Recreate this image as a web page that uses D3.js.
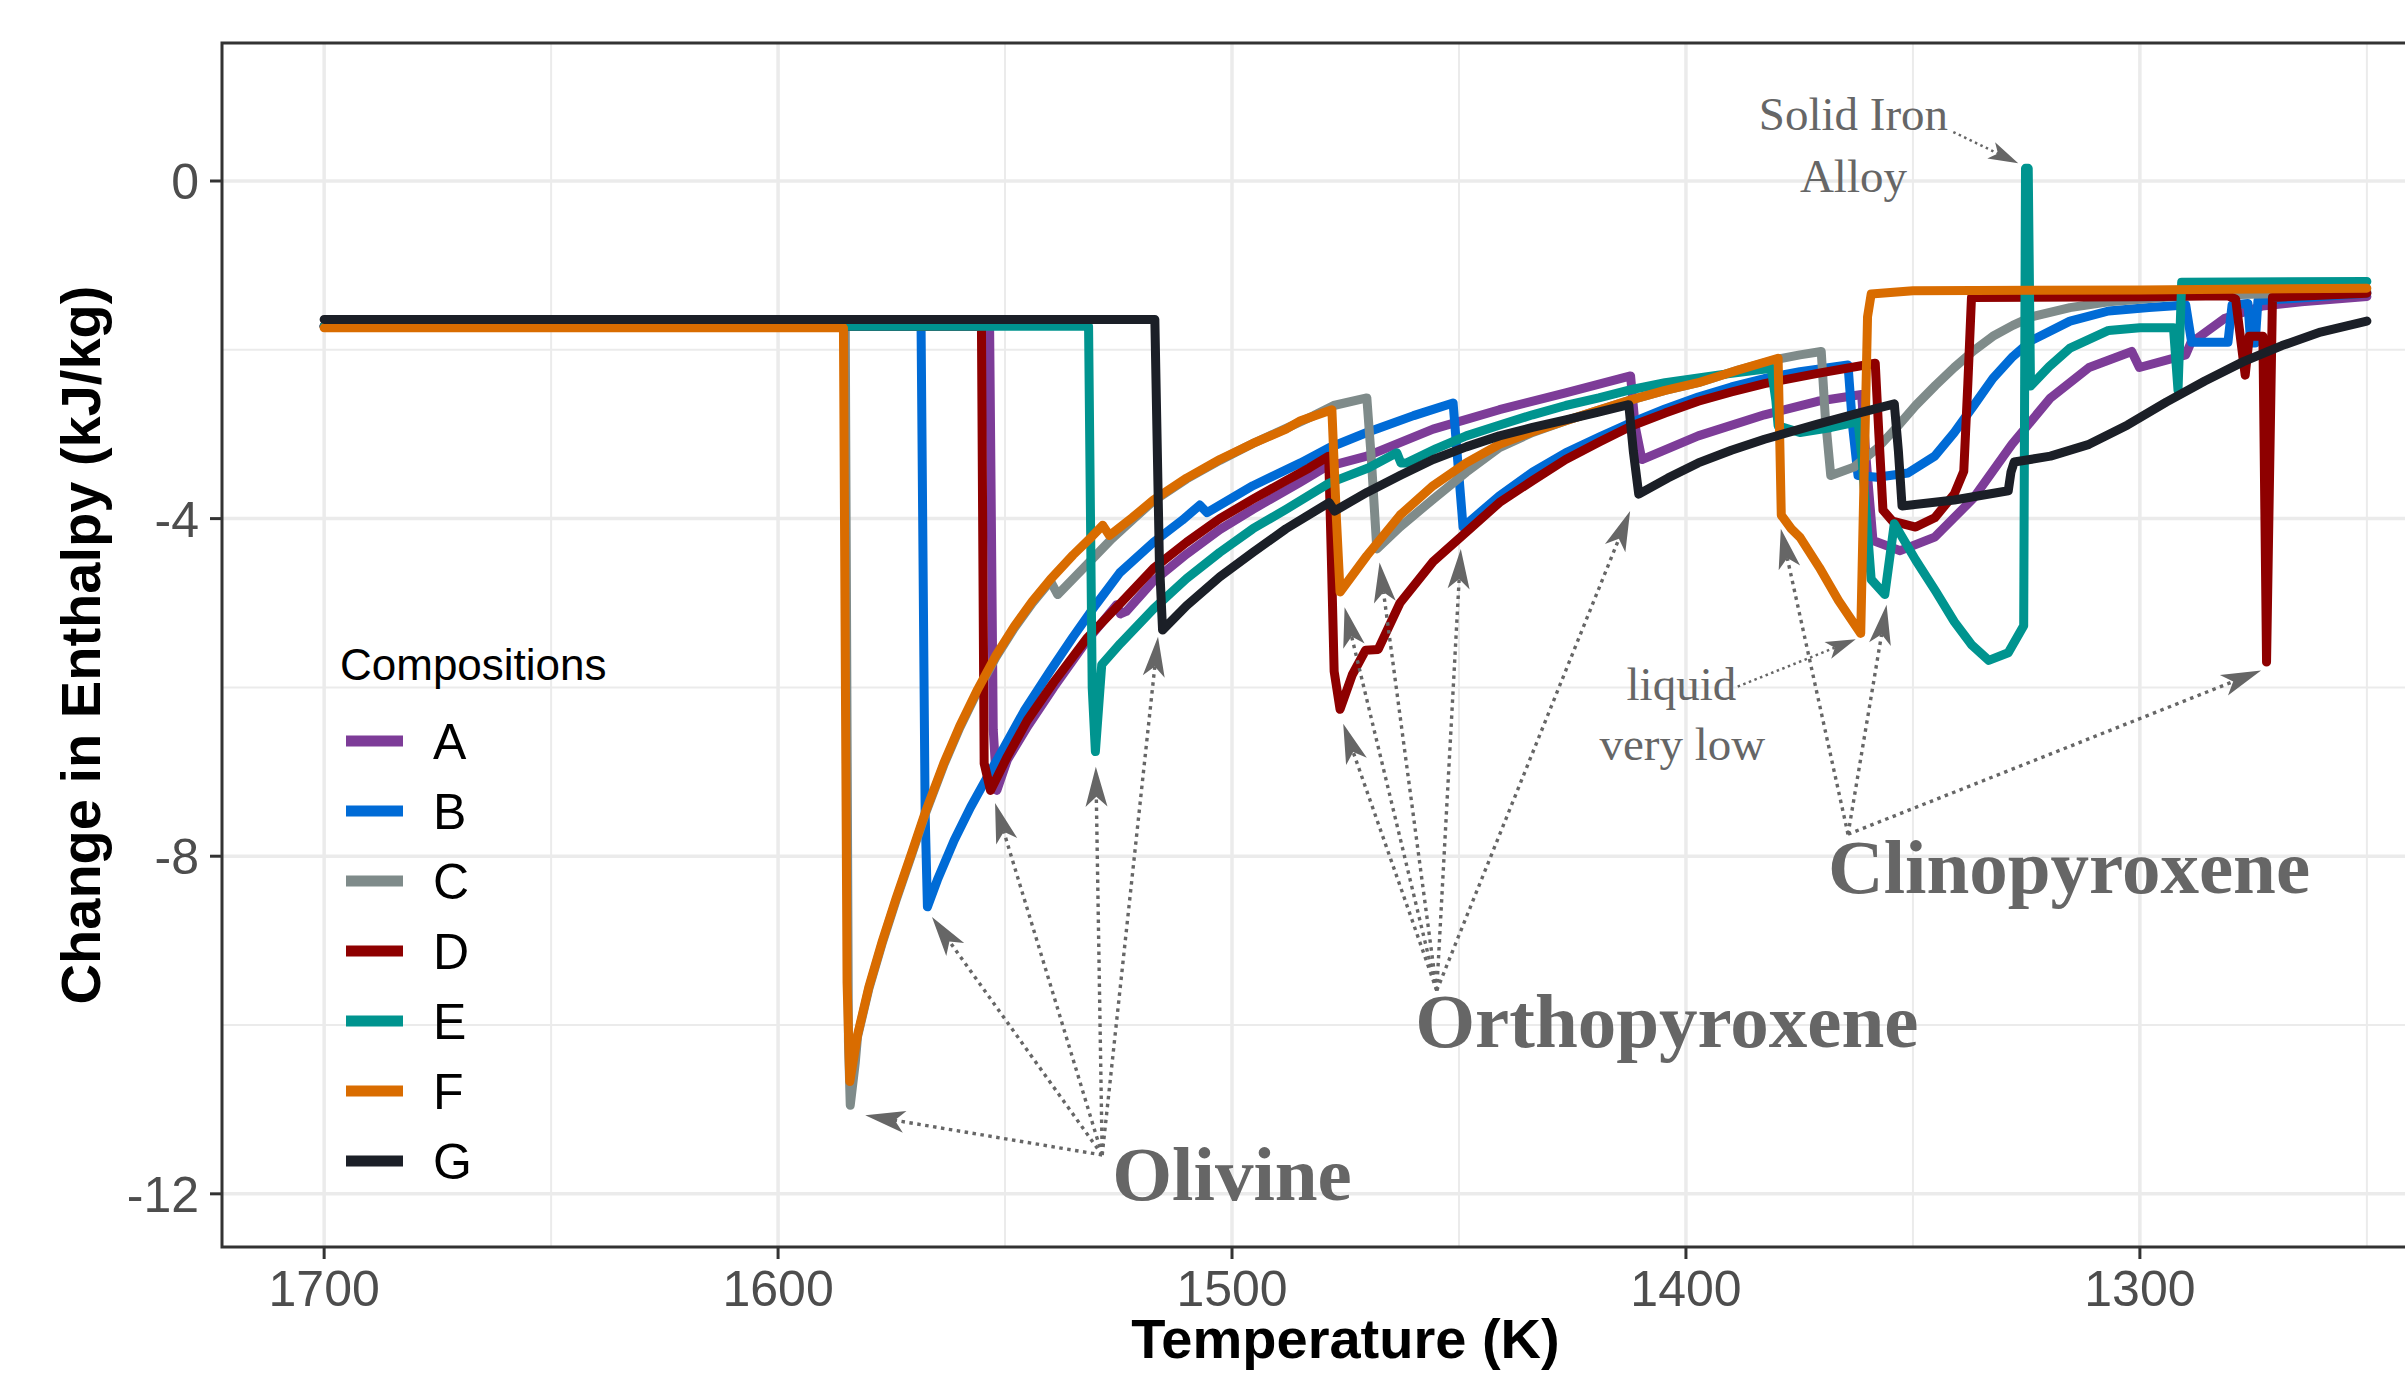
<!DOCTYPE html>
<html lang="en">

<head>
  <meta charset="UTF-8" />
  <title>Change in Enthalpy</title>
  <script src="https://cdn.jsdelivr.net/npm/d3@7"></script>
  <style>
    body {
      margin: 0;
      background: #fff;
    }

    .grid-major {
      stroke: #ebebeb;
      stroke-width: 3.5px;
    }

    .grid-minor {
      stroke: #ebebeb;
      stroke-width: 2px;
    }

    .panel-border {
      fill: none;
      stroke: #333;
      stroke-width: 3px;
    }

    .tick-mark {
      stroke: #333;
      stroke-width: 3px;
    }

    .tick-label {
      font-family: "Liberation Sans", Arial, sans-serif;
      font-size: 50px;
      fill: #4d4d4d;
    }

    .axis-title {
      font-family: "Liberation Sans", Arial, sans-serif;
      font-size: 56px;
      font-weight: bold;
      fill: #000;
    }

    .legend-title {
      font-family: "Liberation Sans", Arial, sans-serif;
      font-size: 44px;
      fill: #000;
    }

    .legend-label {
      font-family: "Liberation Sans", Arial, sans-serif;
      font-size: 50px;
      fill: #000;
    }

    .comp-line {
      fill: none;
      stroke-width: 9px;
      stroke-linejoin: round;
      stroke-linecap: round;
    }

    .phase-text {
      font-family: "Liberation Serif", serif;
      font-size: 77px;
      font-weight: bold;
      fill: #666;
    }

    .note-text {
      font-family: "Liberation Serif", serif;
      font-size: 47px;
      fill: #666;
    }

    .arrow-line {
      fill: none;
      stroke: #666;
      stroke-width: 3.4px;
      stroke-dasharray: 3.5, 4.5;
    }

    .arrow-thin {
      stroke-width: 2.5px;
      stroke-dasharray: 2.5, 3.5;
    }

    .arrow-head {
      fill: #666;
    }
  </style>
</head>

<body>
  <script>
    // values: [temperature (K), change in enthalpy (kJ/kg)]
    var compA = [[1700, -1.72], [1553.4, -1.72], [1552.6, -6.5], [1551.8, -7.22], [1549.5, -6.86], [1545, -6.46],
      [1539.3, -6.0], [1532, -5.45], [1525.4, -5.02], [1524.6, -5.13], [1523.3, -5.10], [1517.3, -4.74],
      [1510, -4.42], [1502.7, -4.13], [1495.4, -3.89], [1485, -3.57], [1479.4, -3.39], [1470.3, -3.26],
      [1455.7, -2.94], [1441.1, -2.71], [1426.5, -2.51], [1412.2, -2.31], [1411.2, -2.9], [1409.7, -3.30],
      [1397.3, -3.02], [1382.7, -2.77], [1371, -2.61], [1361.3, -2.53], [1360.3, -3.3], [1358.8, -4.26],
      [1352.8, -4.38], [1345.2, -4.22], [1336.7, -3.76], [1328.2, -3.12], [1319.7, -2.57], [1311.2, -2.21],
      [1301.8, -2.02], [1300.1, -2.21], [1289.9, -2.06], [1288.8, -1.92], [1281.4, -1.63], [1273, -1.48],
      [1264.4, -1.43], [1250, -1.37]];

    var compB = [[1700, -1.72], [1568.5, -1.72], [1567.6, -7.5], [1567.1, -8.60], [1564.9, -8.28], [1561.2, -7.81],
      [1557.6, -7.42], [1553.9, -7.06], [1550.2, -6.71], [1545.8, -6.28], [1540, -5.80], [1535, -5.40],
      [1530, -5.02], [1524.7, -4.64], [1517.3, -4.28], [1511, -4.02], [1507.1, -3.84], [1505.5, -3.93],
      [1495.4, -3.61], [1484.9, -3.34], [1478.6, -3.16], [1470.3, -2.98], [1460, -2.78], [1451.3, -2.63],
      [1450.3, -3.3], [1449.1, -4.10], [1441.1, -3.73], [1433.8, -3.45], [1426.5, -3.22], [1419, -3.03],
      [1411.9, -2.86], [1404.6, -2.70], [1397.3, -2.56], [1390, -2.44], [1382.7, -2.34], [1374.9, -2.26],
      [1364.3, -2.18], [1363.3, -2.9], [1362.1, -3.49], [1357.9, -3.51], [1351.1, -3.46], [1345.2, -3.26],
      [1340.9, -2.98], [1336.6, -2.66], [1332.4, -2.34], [1328, -2.08], [1323.9, -1.89], [1315.4, -1.66],
      [1306.9, -1.54], [1298, -1.50], [1289.9, -1.47], [1288.6, -1.91], [1280.6, -1.91], [1279.7, -1.47],
      [1276.2, -1.45], [1275.6, -1.92], [1274.6, -1.92], [1274.0, -1.42], [1250, -1.33]];

    var compC = [[1700, -1.72], [1585.2, -1.72], [1584.5, -10.2], [1584.1, -10.95], [1583.0, -10.45], [1582.5, -10.14],
      [1580, -9.57], [1577, -9.02], [1574, -8.52], [1570.5, -7.97], [1567.5, -7.49], [1563.5, -6.92],
      [1560, -6.48], [1556, -6.04], [1552, -5.64], [1548, -5.30], [1544, -5.00], [1540, -4.74],
      [1538.4, -4.90], [1532.4, -4.57], [1526.5, -4.24], [1522, -4.02], [1517.3, -3.79],
      [1510, -3.53], [1502.7, -3.31], [1495.4, -3.11], [1488.1, -2.93], [1482, -2.78], [1477.6, -2.66],
      [1470.3, -2.57], [1469.3, -3.3], [1468.1, -4.36], [1463, -4.10], [1455.7, -3.77], [1448.4, -3.45],
      [1441.1, -3.16], [1433.8, -2.98], [1426.5, -2.84], [1419, -2.71], [1411.9, -2.59], [1404.6, -2.48],
      [1397.3, -2.39], [1388.5, -2.24], [1379.7, -2.11], [1374.9, -2.06], [1370.2, -2.02], [1369.3, -2.8],
      [1368.1, -3.49], [1363, -3.39], [1357.9, -3.17], [1353.6, -2.92], [1349.4, -2.66], [1345, -2.42],
      [1340.9, -2.21], [1336.6, -2.01], [1332.4, -1.84], [1328, -1.71], [1323.9, -1.61], [1315.4, -1.50],
      [1306.9, -1.43], [1289.9, -1.36], [1273, -1.34], [1250, -1.31]];

    var compD = [[1700, -1.72], [1555.2, -1.72], [1554.6, -6.9], [1553.2, -7.22], [1549.5, -6.82], [1545.1, -6.39],
      [1539.3, -5.94], [1532, -5.42], [1524.7, -5.01], [1517.3, -4.59], [1510, -4.28], [1502.7, -4.0],
      [1495.4, -3.77], [1488.1, -3.55], [1483, -3.40], [1478.7, -3.26], [1478.1, -4.5], [1477.5, -5.81],
      [1476.2, -6.26], [1473.5, -5.85], [1470.6, -5.56], [1467.8, -5.55], [1463, -5.0], [1455.7, -4.51],
      [1448.4, -4.16], [1441.1, -3.81], [1433.8, -3.55], [1426.5, -3.30], [1419, -3.09], [1411.9, -2.90],
      [1404.6, -2.75], [1397.3, -2.61], [1390, -2.50], [1382.7, -2.40], [1371, -2.28], [1358.3, -2.16],
      [1357.5, -3.0], [1356.6, -3.90], [1354.5, -4.03], [1349.4, -4.10], [1345.2, -3.99], [1340.9, -3.71],
      [1338.8, -3.44], [1337.9, -2.4], [1337.1, -1.38], [1300, -1.37], [1280.6, -1.36], [1278.9, -1.40],
      [1278.0, -1.79], [1276.8, -2.30], [1275.9, -1.84], [1272.9, -1.84], [1272.1, -5.70], [1270.8, -1.38],
      [1250, -1.33]];

    var compE = [[1700, -1.72], [1531.6, -1.72], [1530.8, -6.0], [1530.1, -6.76], [1528.7, -5.73], [1524.6, -5.48],
      [1517.3, -5.07], [1510, -4.71], [1502.7, -4.40], [1495.4, -4.12], [1488.1, -3.89], [1478.6, -3.58],
      [1470, -3.40], [1463.7, -3.22], [1462.8, -3.34], [1461.5, -3.34], [1455, -3.17], [1448.4, -3.02],
      [1441, -2.89], [1433.8, -2.77], [1426.5, -2.66], [1419.2, -2.57], [1411.9, -2.47], [1404.6, -2.39],
      [1393, -2.30], [1381.2, -2.22], [1380.2, -2.6], [1379.7, -2.90], [1374.9, -2.98], [1368, -2.92],
      [1362.1, -2.85], [1361.2, -3.3], [1359.2, -4.72], [1356.2, -4.90], [1354.1, -4.06], [1349.4, -4.49],
      [1345, -4.86], [1340.9, -5.22], [1337, -5.50], [1333.3, -5.68], [1329, -5.59], [1325.6, -5.27],
      [1325.2, 0.15], [1324.6, 0.15], [1324.1, -2.43], [1320, -2.20], [1315.4, -1.98], [1306.9, -1.77],
      [1300, -1.74], [1292.6, -1.74], [1291.6, -2.48], [1290.8, -1.20], [1250, -1.19]];

    var compF = [[1700, -1.74], [1585.6, -1.74], [1584.8, -9.5], [1584.2, -10.67], [1582.5, -10.12], [1580, -9.55],
      [1577, -9.0], [1574, -8.5], [1570.5, -7.95], [1567.5, -7.47], [1563.5, -6.90], [1560, -6.46],
      [1556, -6.02], [1552, -5.62], [1548, -5.28], [1544, -4.98], [1540, -4.72], [1535, -4.43],
      [1531, -4.22], [1528.5, -4.08], [1527, -4.20], [1522, -3.99], [1517.3, -3.78], [1510, -3.52],
      [1502.7, -3.30], [1495.4, -3.11], [1488.1, -2.94], [1484.9, -2.84], [1478, -2.71], [1477, -4.0],
      [1476.2, -4.87], [1470.3, -4.44], [1463, -3.96], [1455.7, -3.61], [1448.4, -3.34], [1441.1, -3.12],
      [1433.8, -2.97], [1426.5, -2.84], [1419, -2.71], [1411.9, -2.59], [1404.6, -2.48], [1397.3, -2.39],
      [1388.5, -2.24], [1379.7, -2.10], [1379.0, -3.96], [1376.8, -4.12], [1374.9, -4.22], [1370.6, -4.58],
      [1366.4, -4.97], [1361.5, -5.36], [1360.0, -1.61], [1359.2, -1.34], [1350, -1.30], [1300, -1.29],
      [1250, -1.27]];

    var compG = [[1700, -1.64], [1517, -1.64], [1516, -4.5], [1515.3, -5.32], [1510, -5.03], [1502.7, -4.69],
      [1495.4, -4.40], [1488.1, -4.12], [1478.6, -3.81], [1477.4, -3.91], [1470.3, -3.69], [1463, -3.49],
      [1455.7, -3.30], [1448.4, -3.15], [1441.1, -3.02], [1433.8, -2.92], [1426.5, -2.83], [1419.5, -2.74],
      [1412.6, -2.65], [1411.6, -3.2], [1410.4, -3.71], [1404, -3.52], [1397.3, -3.34], [1390, -3.19],
      [1382.7, -3.06], [1371, -2.88], [1362, -2.75], [1354.1, -2.64], [1353.2, -3.2], [1352.4, -3.85],
      [1340.9, -3.78], [1329, -3.67], [1328.4, -3.45], [1327.7, -3.33], [1319.7, -3.26], [1311.2, -3.12],
      [1302.7, -2.89], [1294.2, -2.62], [1285.7, -2.37], [1277.2, -2.14], [1268.7, -1.95], [1260.2, -1.79],
      [1250, -1.66]];

    var compositions = ["A", "B", "C", "D", "E", "F", "G"];
    var compSeries = [compA, compB, compC, compD, compE, compF, compG];
    var compColors = ["#7d3c98", "#006bd6", "#7f8b8a", "#8e0000", "#00948f", "#d96c00", "#1b1f27"];

    var xTicks = [1700, 1600, 1500, 1400, 1300];
    var xMinor = [1650, 1550, 1450, 1350, 1250];
    var yTicks = [0, -4, -8, -12];
    var yMinor = [-2, -6, -10];

    // phase labels and notes: [text, temperature, enthalpy at baseline]
    var phaseLabels = [["Olivine", 1500, -12.07], ["Orthopyroxene", 1404.2, -10.26], ["Clinopyroxene", 1315.6, -8.44]];
    var noteLabels = [["Solid Iron", 1363.1, 0.60], ["Alloy", 1363.1, -0.13], ["liquid", 1401, -6.15], ["very low", 1400.8, -6.86]];

    // arrows: [from T, from H, to T, to H]
    var olivineArrows = [[1528.6, -11.54, 1580.8, -11.07], [1528.6, -11.54, 1566.1, -8.72], [1528.6, -11.54, 1552.2, -7.37],
      [1528.6, -11.54, 1530, -6.94], [1528.6, -11.54, 1516.3, -5.40]];
    var orthoArrows = [[1454.9, -9.59, 1475.5, -6.43], [1454.9, -9.59, 1475.2, -5.05], [1454.9, -9.59, 1467.5, -4.52],
      [1454.9, -9.59, 1449.6, -4.36], [1454.9, -9.59, 1412.3, -3.91]];
    var clinoArrows = [[1364.3, -7.74, 1379.1, -4.12], [1364.3, -7.74, 1355.8, -5.02], [1364.3, -7.74, 1273.3, -5.80]];
    var noteArrows = [[1388.6, -5.99, 1362.6, -5.43], [1341.1, 0.58, 1326.8, 0.21]];

    var w = 2405;
    var h = 1373;
    var panel = {
      left: 222,
      top: 43,
      right: 2469,
      bottom: 1247
    };

    var svg = d3.select("body")
      .append("svg")
      .attr("width", w)
      .attr("height", h);

    svg.append("rect")
      .attr("width", w)
      .attr("height", h)
      .attr("fill", "#fff");

    var xScale = d3.scaleLinear()
      .domain([1722.5, 1227.5])
      .range([panel.left, panel.right]);

    var yScale = d3.scaleLinear()
      .domain([-12.63, 1.635])
      .range([panel.bottom, panel.top]);

    // grid
    svg.selectAll(".vminor")
      .data(xMinor)
      .enter()
      .append("line")
      .attr("class", "grid-minor")
      .attr("x1", function(d) { return xScale(d); })
      .attr("x2", function(d) { return xScale(d); })
      .attr("y1", panel.top)
      .attr("y2", panel.bottom);

    svg.selectAll(".hminor")
      .data(yMinor)
      .enter()
      .append("line")
      .attr("class", "grid-minor")
      .attr("x1", panel.left)
      .attr("x2", panel.right)
      .attr("y1", function(d) { return yScale(d); })
      .attr("y2", function(d) { return yScale(d); });

    svg.selectAll(".vmajor")
      .data(xTicks)
      .enter()
      .append("line")
      .attr("class", "grid-major")
      .attr("x1", function(d) { return xScale(d); })
      .attr("x2", function(d) { return xScale(d); })
      .attr("y1", panel.top)
      .attr("y2", panel.bottom);

    svg.selectAll(".hmajor")
      .data(yTicks)
      .enter()
      .append("line")
      .attr("class", "grid-major")
      .attr("x1", panel.left)
      .attr("x2", panel.right)
      .attr("y1", function(d) { return yScale(d); })
      .attr("y2", function(d) { return yScale(d); });

    svg.append("clipPath")
      .attr("id", "panel-clip")
      .append("rect")
      .attr("x", panel.left)
      .attr("y", panel.top)
      .attr("width", panel.right - panel.left)
      .attr("height", panel.bottom - panel.top);

    var line = d3.line()
      .x(function(d) { return xScale(d[0]); })
      .y(function(d) { return yScale(d[1]); });

    svg.append("g")
      .attr("clip-path", "url(#panel-clip)")
      .selectAll("path")
      .data(compSeries)
      .enter()
      .append("path")
      .attr("class", "comp-line")
      .attr("stroke", function(d, i) { return compColors[i]; })
      .attr("d", line);

    // dotted arrows
    function drawArrow(a, thin) {
      var x0 = xScale(a[0]), y0 = yScale(a[1]);
      var x1 = xScale(a[2]), y1 = yScale(a[3]);
      var ang = Math.atan2(y1 - y0, x1 - x0);
      var len = thin ? 30 : 40;
      var half = thin ? 9 : 11;
      var c = Math.cos(ang), s = Math.sin(ang);
      var bx = x1 - len * c, by = y1 - len * s;
      var nx = x1 - 0.75 * len * c, ny = y1 - 0.75 * len * s;

      svg.append("line")
        .attr("class", thin ? "arrow-line arrow-thin" : "arrow-line")
        .attr("x1", x0)
        .attr("y1", y0)
        .attr("x2", nx)
        .attr("y2", ny);

      svg.append("path")
        .attr("class", "arrow-head")
        .attr("d", "M" + x1 + "," + y1 +
          "L" + (bx - half * s) + "," + (by + half * c) +
          "L" + nx + "," + ny +
          "L" + (bx + half * s) + "," + (by - half * c) + "Z");
    }

    olivineArrows.forEach(function(a) { drawArrow(a, false); });
    orthoArrows.forEach(function(a) { drawArrow(a, false); });
    clinoArrows.forEach(function(a) { drawArrow(a, false); });
    noteArrows.forEach(function(a) { drawArrow(a, true); });

    svg.selectAll(".phase-text")
      .data(phaseLabels)
      .enter()
      .append("text")
      .attr("class", "phase-text")
      .attr("text-anchor", "middle")
      .attr("x", function(d) { return xScale(d[1]); })
      .attr("y", function(d) { return yScale(d[2]); })
      .text(function(d) { return d[0]; });

    svg.selectAll(".note-text")
      .data(noteLabels)
      .enter()
      .append("text")
      .attr("class", "note-text")
      .attr("text-anchor", "middle")
      .attr("x", function(d) { return xScale(d[1]); })
      .attr("y", function(d) { return yScale(d[2]); })
      .text(function(d) { return d[0]; });

    // panel border and ticks
    svg.append("rect")
      .attr("class", "panel-border")
      .attr("x", panel.left)
      .attr("y", panel.top)
      .attr("width", panel.right - panel.left)
      .attr("height", panel.bottom - panel.top);

    svg.selectAll(".xtick")
      .data(xTicks)
      .enter()
      .append("line")
      .attr("class", "tick-mark")
      .attr("x1", function(d) { return xScale(d); })
      .attr("x2", function(d) { return xScale(d); })
      .attr("y1", panel.bottom)
      .attr("y2", panel.bottom + 12);

    svg.selectAll(".xlabel")
      .data(xTicks)
      .enter()
      .append("text")
      .attr("class", "tick-label")
      .attr("text-anchor", "middle")
      .attr("x", function(d) { return xScale(d); })
      .attr("y", 1306)
      .text(function(d) { return d; });

    svg.selectAll(".ytick")
      .data(yTicks)
      .enter()
      .append("line")
      .attr("class", "tick-mark")
      .attr("x1", panel.left - 12)
      .attr("x2", panel.left)
      .attr("y1", function(d) { return yScale(d); })
      .attr("y2", function(d) { return yScale(d); });

    svg.selectAll(".ylabel")
      .data(yTicks)
      .enter()
      .append("text")
      .attr("class", "tick-label")
      .attr("text-anchor", "end")
      .attr("x", 199)
      .attr("y", function(d) { return yScale(d) + 18; })
      .text(function(d) { return d; });

    svg.append("text")
      .attr("class", "axis-title")
      .attr("text-anchor", "middle")
      .attr("x", (panel.left + panel.right) / 2)
      .attr("y", 1358)
      .text("Temperature (K)");

    svg.append("text")
      .attr("class", "axis-title")
      .attr("text-anchor", "middle")
      .attr("transform", "translate(100," + ((panel.top + panel.bottom) / 2) + ") rotate(-90)")
      .text("Change in Enthalpy (kJ/kg)");

    // legend
    svg.append("text")
      .attr("class", "legend-title")
      .attr("x", 340)
      .attr("y", 680)
      .text("Compositions");

    var legend = svg.selectAll(".legend-item")
      .data(compositions)
      .enter()
      .append("g")
      .attr("transform", function(d, i) { return "translate(0," + (741 + 70 * i) + ")"; });

    legend.append("line")
      .attr("x1", 346)
      .attr("x2", 403)
      .attr("stroke", function(d, i) { return compColors[i]; })
      .attr("stroke-width", 11);

    legend.append("text")
      .attr("class", "legend-label")
      .attr("x", 433)
      .attr("y", 18)
      .text(function(d) { return d; });
  </script>
</body>

</html>
